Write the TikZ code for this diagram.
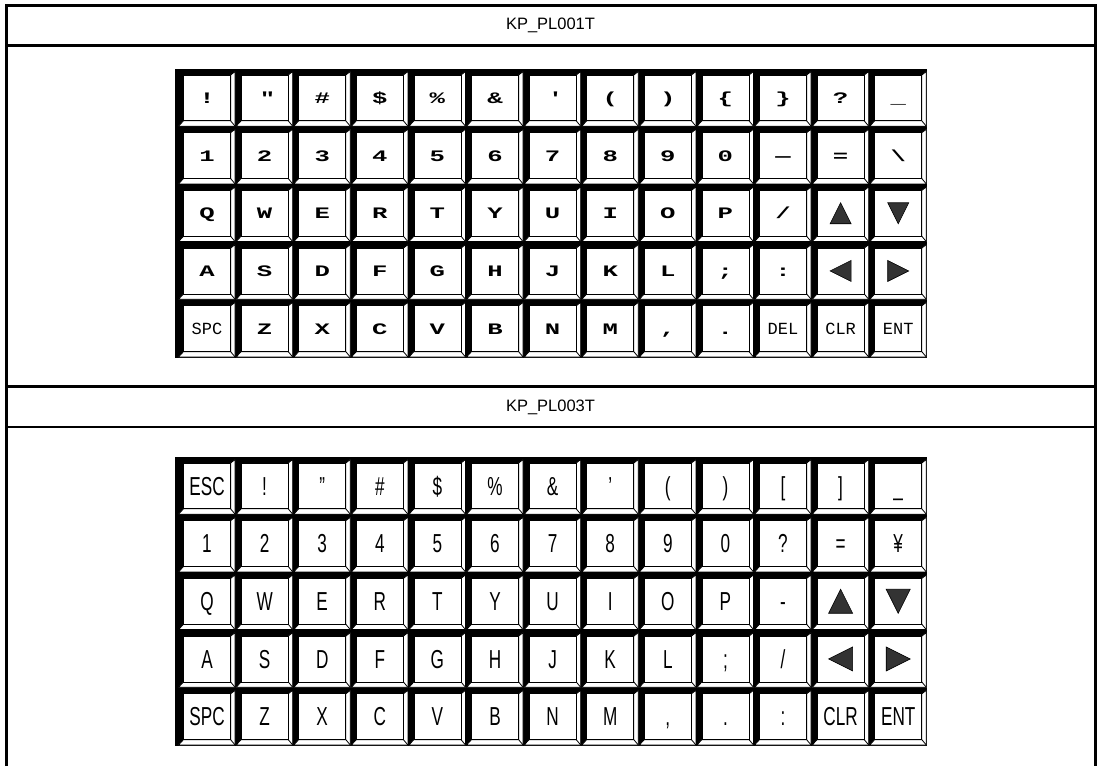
\documentclass[tikz,border=0pt]{standalone}
\usepackage{fontspec}
\setmainfont{Liberation Sans}
\newfontfamily\kbA[FakeStretch=1.6]{Liberation Mono}
\newfontfamily\kbS{Liberation Mono}
\newfontfamily\kbB[FakeStretch=0.66]{Liberation Sans}
\tikzset{
  bevel/.style={fill=white,draw=black,line width=0.8pt},
  frame/.style={line width=3pt,draw=black},
  sepline/.style={line width=2.2pt,draw=black},
  title/.style={font=\fontsize{16.5}{18}\selectfont,inner sep=0pt},
  lblA/.style={anchor=base,inner sep=0pt,yshift=-5.5pt,font=\kbA\bfseries\fontsize{16}{18}\selectfont},
  lblB/.style={anchor=base,inner sep=0pt,yshift=-9.3pt,font=\kbB\fontsize{26}{28}\selectfont},
  trifill/.style={fill=black!80,draw=black,line width=0.6pt,line join=miter},
}
\newcommand\kbcell[2]{%
  \filldraw[bevel] (#1+0.5,#2+57.2) -- (#1+57.1,#2+57.2) -- (#1+57.1,#2+2.5)
     -- (#1+52.6,#2+6) -- (#1+52.6,#2+51.8) -- (#1+5.5,#2+51.8) -- cycle;
  \draw[bevel] (#1+52.6,#2+51.8) -- (#1+57.1,#2+57.2);
  \filldraw[bevel] (#1+5.5,#2+6) rectangle (#1+52.6,#2+51.8);}
\newcommand\kbrow[5]{%
  \foreach \lab [count=\i from 0] in {#5} {
    \pgfmathsetmacro\cx{178+57.6*\i}
    \pgfmathsetmacro\cy{#3+57.7*#2}
    \kbcell{\cx}{\cy}
    \node[#4] (#1r#2c\i) at (\cx+29,\cy+28.85) {\lab};
  }}
\newcommand\kbtri[5]{% col, row, y0, half size, rotation
  \pgfmathsetmacro\tx{178+57.6*#1+29}
  \pgfmathsetmacro\ty{#3+57.7*#2+28.85}
  \filldraw[trifill,shift={(\tx,\ty)},rotate=#5] (0,-#4) -- (#4,#4) -- (-#4,#4) -- cycle;}
\newcommand\smallA[1]{{\kbS\mdseries\fontsize{17}{19}\selectfont #1}}
\begin{document}
\begin{tikzpicture}[x=1pt,y=-1pt]
\useasboundingbox (0,0) rectangle (1099,766);
\fill[white] (0,0) rectangle (1099,766);
% table frame
\draw[frame] (6.5,766) -- (6.5,5.5) -- (1095,5.5) -- (1095,766);
\draw[sepline] (6.5,45.5) -- (1095,45.5);
\draw[sepline] (6.5,386.5) -- (1095,386.5);
\draw[sepline] (6.5,427) -- (1095,427);
\node[title] (title1) at (550.5,25.5) {KP\_PL001T};
\node[title] (title2) at (550.5,407) {KP\_PL003T};
% keyboard 1
\fill[black] (175,69) rectangle (926.8,357.5);
\kbrow{a}{0}{69}{lblA}{!,\textquotedbl,\#,\$,\%,\&,\textquotesingle,{(},{)},\{,\},?,\_}
\kbrow{a}{1}{69}{lblA}{1,2,3,4,5,6,7,8,9,0,—,=,\textbackslash}
\kbrow{a}{2}{69}{lblA}{Q,W,E,R,T,Y,U,I,O,P,/,{},{}}
\kbrow{a}{3}{69}{lblA}{A,S,D,F,G,H,J,K,L,;,:,{},{}}
\kbrow{a}{4}{69}{lblA}{{\smallA{SPC}},Z,X,C,V,B,N,M,{,},.,{\smallA{DEL}},{\smallA{CLR}},{\smallA{ENT}}}
\kbtri{11}{2}{69}{10.5}{0}
\kbtri{12}{2}{69}{10.5}{180}
\kbtri{11}{3}{69}{10.5}{90}
\kbtri{12}{3}{69}{10.5}{-90}
% keyboard 2
\fill[black] (175,457) rectangle (926.8,745.5);
\kbrow{b}{0}{457}{lblB}{ESC,!,”,\#,\$,\%,\&,’,{(},{)},{[},{]},\_}
\kbrow{b}{1}{457}{lblB}{1,2,3,4,5,6,7,8,9,0,?,=,¥}
\kbrow{b}{2}{457}{lblB}{Q,W,E,R,T,Y,U,I,O,P,-,{},{}}
\kbrow{b}{3}{457}{lblB}{A,S,D,F,G,H,J,K,L,;,/,{},{}}
\kbrow{b}{4}{457}{lblB}{SPC,Z,X,C,V,B,N,M,{,},.,:,CLR,ENT}
\kbtri{11}{2}{457}{12}{0}
\kbtri{12}{2}{457}{12}{180}
\kbtri{11}{3}{457}{12}{90}
\kbtri{12}{3}{457}{12}{-90}
\end{tikzpicture}
\end{document}
